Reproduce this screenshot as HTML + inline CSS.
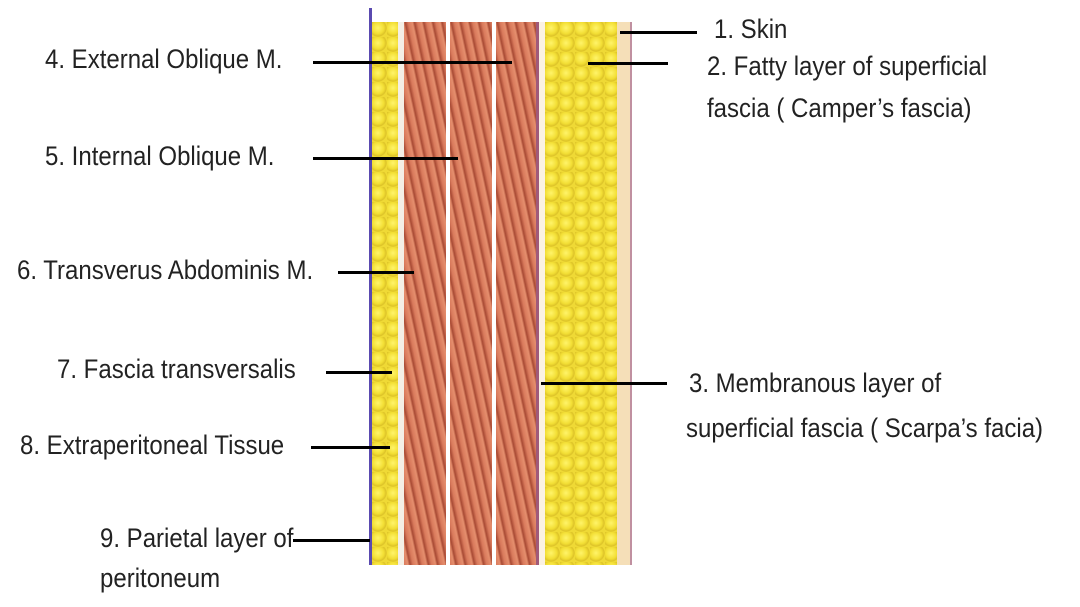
<!DOCTYPE html>
<html><head><meta charset="utf-8"><style>
body{margin:0;width:1080px;height:607px;background:#fff;position:relative;overflow:hidden;font-family:"Liberation Sans",sans-serif;}
.t{position:absolute;font-size:24px;color:#222;white-space:nowrap;line-height:28px;transform:scaleY(1.1);transform-origin:left top;}
.l{position:absolute;height:3px;background:#000;}
.s{position:absolute;top:22px;height:543px;}
.fat{background:radial-gradient(circle at 40% 40%,#fff46a 0,#f3df35 45%,#dcc228 65%,transparent 70%) 0 0/15px 15px,#efd935;}
.mus{background:repeating-linear-gradient(78deg,#d97a5c 0,#e58f6e 4px,#a84a34 6px,#d97a5c 9px),#d57a5a;}
</style></head><body>
<div class="s" style="left:369px;width:3px;top:8px;height:557px;background:#5a4ab0"></div>
<div class="s fat" style="left:372px;width:26px"></div>
<div class="s" style="left:398px;width:6px;background:#f4efe6"></div>
<div class="s mus" style="left:404px;width:42px"></div>
<div class="s" style="left:446px;width:4px;background:#fff"></div>
<div class="s mus" style="left:450px;width:42px"></div>
<div class="s" style="left:492px;width:4px;background:#fff"></div>
<div class="s mus" style="left:496px;width:40px"></div>
<div class="s" style="left:536px;width:3px;background:#a05a7a"></div>
<div class="s" style="left:539px;width:6px;background:#fbf2e2"></div>
<div class="s fat" style="left:545px;width:72px"></div>
<div class="s" style="left:617px;width:13px;background:#f5dfb8"></div>
<div class="s" style="left:630px;width:2px;background:#c090a0"></div>

<div class="l" style="left:620px;width:77px;top:31px"></div>
<div class="t" style="left:714px;top:15px">1. Skin</div>
<div class="l" style="left:588px;width:80px;top:62px"></div>
<div class="t" style="left:707px;top:52px">2. Fatty layer of superficial</div>
<div class="t" style="left:707px;top:94px">fascia ( Camper’s fascia)</div>
<div class="l" style="left:313px;width:199px;top:61px"></div>
<div class="t" style="left:45px;top:45px">4. External Oblique M.</div>
<div class="l" style="left:313px;width:145px;top:157px"></div>
<div class="t" style="left:45px;top:142px">5. Internal Oblique M.</div>
<div class="l" style="left:338px;width:76px;top:271px"></div>
<div class="t" style="left:17px;top:256px">6. Transverus Abdominis M.</div>
<div class="l" style="left:326px;width:66px;top:371px"></div>
<div class="t" style="left:57px;top:355px">7. Fascia transversalis</div>
<div class="l" style="left:541px;width:126px;top:382px"></div>
<div class="t" style="left:689px;top:369px">3. Membranous layer of</div>
<div class="t" style="left:686px;top:414px">superficial fascia ( Scarpa’s facia)</div>
<div class="l" style="left:311px;width:79px;top:446px"></div>
<div class="t" style="left:20px;top:431px">8. Extraperitoneal Tissue</div>
<div class="l" style="left:293px;width:77px;top:539px"></div>
<div class="t" style="left:100px;top:524px">9. Parietal layer of</div>
<div class="t" style="left:100px;top:564px">peritoneum</div>
</body></html>
